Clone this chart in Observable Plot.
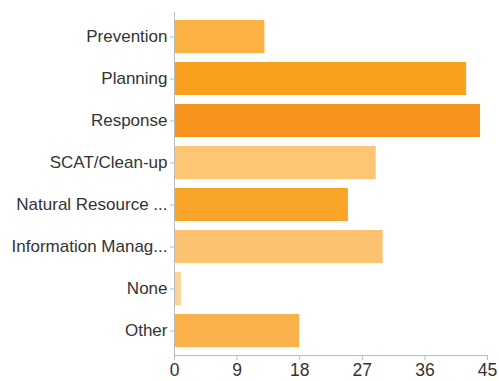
<!DOCTYPE html>
<html>
<head>
<meta charset="utf-8">
<script src="https://cdn.jsdelivr.net/npm/d3@7"></script>
<script src="https://cdn.jsdelivr.net/npm/@observablehq/plot@0.6"></script>
<style>
  html, body { margin: 0; padding: 0; background: #fff; }
  #chart svg { display: block; }
</style>
</head>
<body>
<div id="chart"></div>
<script>
const categories = ["Prevention", "Planning", "Response", "SCAT/Clean-up", "Natural Resource ...", "Information Manag...", "None", "Other"];
const values = [13, 42, 44, 29, 25, 30, 1, 18];
const colors = ["#fcb144", "#f9a01f", "#f7941e", "#fdc574", "#f9a529", "#fdc270", "#fdd295", "#fbb24b"];
const xTicks = [0, 9, 18, 27, 36, 45];

const data = categories.map((c, i) => ({category: c, value: values[i], color: colors[i]}));

const chart = Plot.plot({
  width: 499,
  height: 381,
  marginLeft: 174,
  marginRight: 12,
  marginTop: 7,
  marginBottom: 22,
  style: {fontFamily: "Liberation Sans, Arial, Helvetica, sans-serif", fontSize: "17px", color: "#333", background: "#fff"},
  x: {domain: [0, 45], ticks: xTicks, label: null},
  y: {domain: categories, padding: 0.22, label: null},
  marks: [
    Plot.barX(data, {x: "value", y: "category", fill: "color"}),
    Plot.ruleX([0], {stroke: "#bbb", strokeWidth: 1, insetTop: 5, insetBottom: 4}),
    Plot.frame({anchor: "bottom", stroke: "#bbb", dy: -4}),
    Plot.axisX({ticks: xTicks, tickSize: 5, tickPadding: 3, stroke: "#bbb", fill: "#333", fontSize: 17.5, label: null, dy: -4}),
    Plot.axisY({tickSize: 4, tickPadding: 3, stroke: "#bbb", fill: "#333", fontSize: 17, label: null})
  ]
});
document.getElementById("chart").appendChild(chart);
</script>
</body>
</html>
